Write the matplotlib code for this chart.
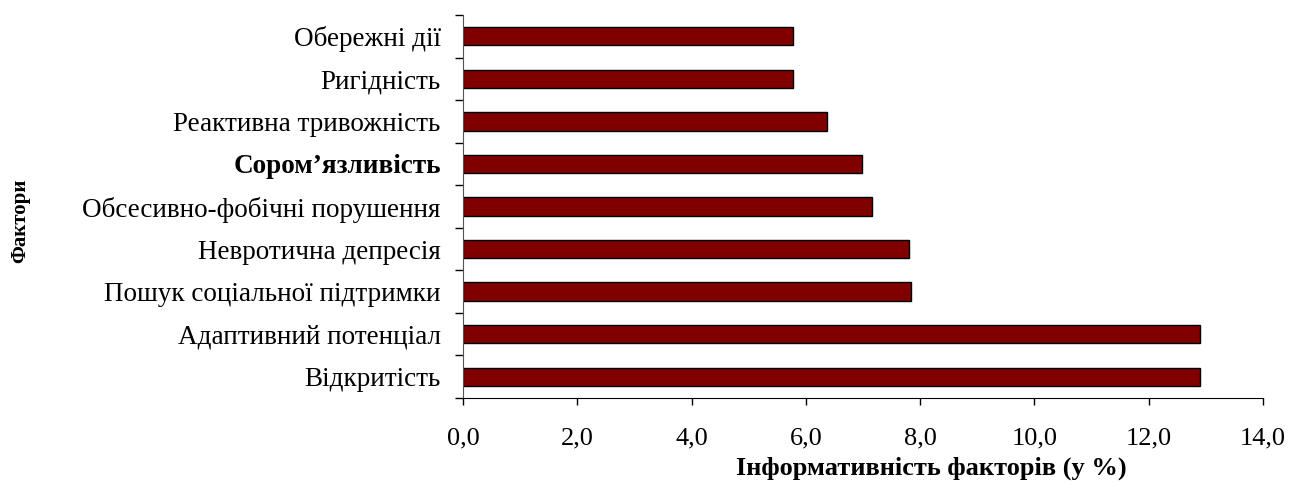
import matplotlib
matplotlib.use("Agg")
import matplotlib.pyplot as plt
from matplotlib.ticker import FixedLocator, NullFormatter

categories = ["Відкритість", "Адаптивний потенціал", "Пошук соціальної підтримки",
              "Невротична депресія", "Обсесивно-фобічні порушення", "Сором’язливість",
              "Реактивна тривожність", "Ригідність", "Обережні дії"]
values = [12.9, 12.9, 7.84, 7.81, 7.15, 6.99, 6.37, 5.77, 5.77]
xticks = [0, 2, 4, 6, 8, 10, 12, 14]
xticklabels = ["0,0", "2,0", "4,0", "6,0", "8,0", "10,0", "12,0", "14,0"]
bold_label = "Сором’язливість"

plt.rcParams['font.family'] = ['Liberation Serif', 'DejaVu Serif']

fig = plt.figure(figsize=(12.91, 4.84), dpi=100)
ax = fig.add_axes([463/1291, 1 - 398/484, 800/1291, (398 - 15)/484])

pos = list(range(len(categories)))
ax.barh(pos, values, height=0.43, color="#800000", edgecolor="black", linewidth=1.0)

ax.set_xlim(0, 14)
ax.set_ylim(-0.5, len(categories) - 0.5)
ax.set_xticks(xticks)
ax.set_xticklabels(xticklabels, fontsize=19)
ax.tick_params(axis='x', direction='out', length=5, width=1, pad=16)

ax.set_yticks(pos)
ax.set_yticklabels(categories, fontsize=19.5)
ax.tick_params(axis='y', which='major', length=0, pad=16)
ax.yaxis.set_minor_locator(FixedLocator([i - 0.5 for i in range(len(categories) + 1)]))
ax.yaxis.set_minor_formatter(NullFormatter())
ax.tick_params(axis='y', which='minor', direction='out', length=6, width=1)
for lbl in ax.get_yticklabels():
    if lbl.get_text() == bold_label:
        lbl.set_fontweight('bold')

ax.spines['top'].set_visible(False)
ax.spines['right'].set_visible(False)
ax.spines['left'].set_color('#555555')
ax.spines['bottom'].set_color('black')

ax.set_xlabel("Інформативність факторів (у %)", fontsize=19, fontweight='bold')
ax.xaxis.set_label_coords(0.585, -0.152)
fig.text(20/1291, 1 - 221/484, "Фактори", rotation=90, fontsize=15, fontweight='bold',
         ha='center', va='center')

fig.savefig("out.png", dpi=100)
